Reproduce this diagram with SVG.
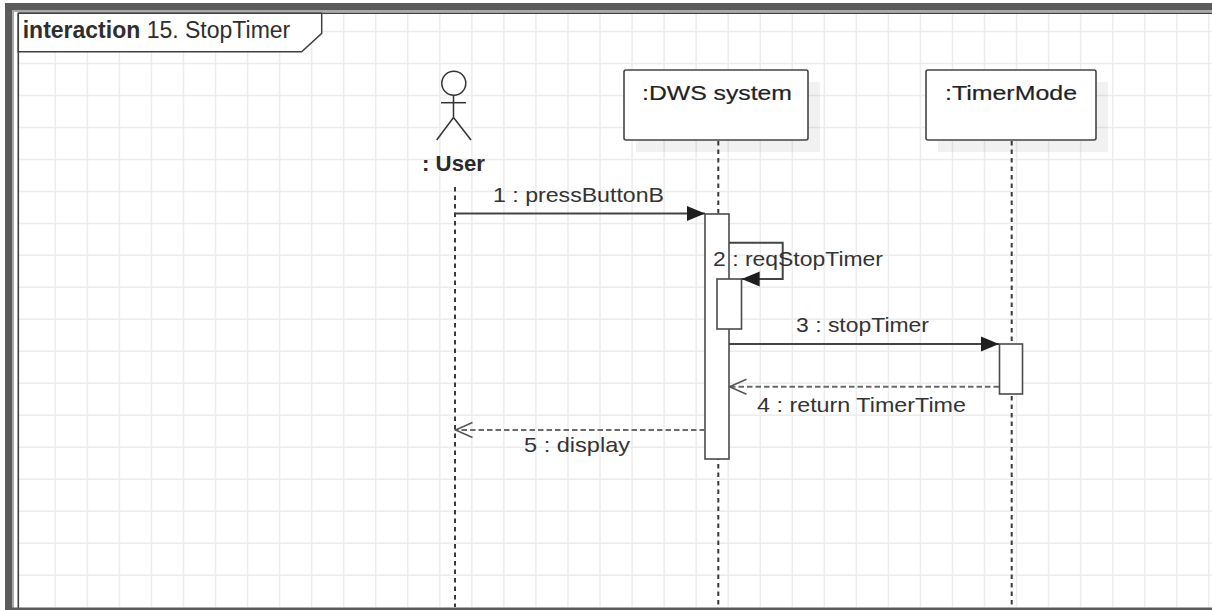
<svg xmlns="http://www.w3.org/2000/svg" width="1212" height="610" viewBox="0 0 1212 610">
<style>
.grid{stroke:#ececec;stroke-width:1.5;fill:none}
.band{fill:#5b5b5b}
.bandl{fill:#a9a9a9}
.frame{fill:#ffffff;stroke:#404040;stroke-width:1.5}
.box{fill:#ffffff;stroke:#444444;stroke-width:1.6}
.shadow{fill:#000000;fill-opacity:0.055}
.act{fill:#ffffff;stroke:#4a4a4a;stroke-width:1.6}
.life{stroke:#3a3a3a;stroke-width:2;stroke-dasharray:4.5 4;fill:none}
.msg{stroke:#444444;stroke-width:2;fill:none}
.ret{stroke:#6a6a6a;stroke-width:2;stroke-dasharray:5.5 3;fill:none}
.lbl{font-family:"Liberation Sans",Arial,sans-serif;font-size:21px;fill:#333333}
.node{font-family:"Liberation Sans",Arial,sans-serif;font-size:21px;fill:#222222;stroke:#222222;stroke-width:0.2}
.title{font-family:"Liberation Sans",Arial,sans-serif;font-size:23px;fill:#2e2e2e}
.actor{stroke:#333333;stroke-width:1.5;fill:none}
</style>
<defs>
<marker id="filled" markerUnits="userSpaceOnUse" markerWidth="20" markerHeight="16" refX="18" refY="7.5" orient="auto" overflow="visible">
<path d="M0,0 L18,7.5 L0,15 z" fill="#1f1f1f"/>
</marker>
<marker id="open" markerUnits="userSpaceOnUse" markerWidth="20" markerHeight="16" refX="17" refY="7.5" orient="auto" overflow="visible">
<path d="M0,0 L17,7.5 L0,15" fill="none" stroke="#555555" stroke-width="1.5"/>
</marker>
</defs>
<rect x="0" y="0" width="1212" height="610" fill="#ffffff"/>
<g id="grid">
<path class="grid" d="M55.34,13V607M87.38,13V607M119.42,13V607M151.46,13V607M183.5,13V607M215.54,13V607M247.58,13V607M279.62,13V607M311.66,13V607M343.7,13V607M375.74,13V607M407.78,13V607M439.82,13V607M471.86,13V607M503.9,13V607M535.94,13V607M567.98,13V607M600.02,13V607M632.06,13V607M664.1,13V607M696.14,13V607M728.18,13V607M760.22,13V607M792.26,13V607M824.3,13V607M856.34,13V607M888.38,13V607M920.42,13V607M952.46,13V607M984.5,13V607M1016.54,13V607M1048.58,13V607M1080.62,13V607M1112.66,13V607M1144.7,13V607M1176.74,13V607M1208.78,13V607"/>
<path class="grid" d="M18,31.5H1212M18,63.48H1212M18,95.46H1212M18,127.44H1212M18,159.42H1212M18,191.4H1212M18,223.38H1212M18,255.36H1212M18,287.34H1212M18,319.32H1212M18,351.3H1212M18,383.28H1212M18,415.26H1212M18,447.24H1212M18,479.22H1212M18,511.2H1212M18,543.18H1212M18,575.16H1212"/>
</g>
<g id="frame">
<rect class="band" x="5" y="3" width="1207" height="7"/>
<rect class="bandl" x="12" y="10" width="1200" height="2"/>
<rect class="band" x="5" y="3" width="7" height="607"/>
<rect class="bandl" x="12" y="10" width="2" height="598"/>
<line x1="18.3" y1="13.3" x2="18.3" y2="608" stroke="#404040" stroke-width="1.6"/>
<line x1="18.3" y1="13.3" x2="1212" y2="13.3" stroke="#404040" stroke-width="1.4"/>
<rect class="band" x="5" y="607.5" width="1207" height="2.5"/>
<path class="frame" d="M18.3,13.3 H321.7 V33.3 L301.7,51.7 H18.3 Z"/>
<text class="title" x="22.7" y="37.7"><tspan font-weight="bold">interaction</tspan> 15. StopTimer</text>
</g>
<g id="lifelines">
<line class="life" x1="455" y1="187" x2="455" y2="607"/>
<line class="life" x1="718.3" y1="141" x2="718.3" y2="607"/>
<line class="life" x1="1011.7" y1="141" x2="1011.7" y2="607"/>
</g>
<g id="user">
<circle class="actor" cx="453.8" cy="83.3" r="12"/>
<line class="actor" x1="453.5" y1="95.5" x2="453.5" y2="117.5"/>
<line class="actor" x1="441" y1="102.7" x2="466" y2="102.7"/>
<line class="actor" x1="453.5" y1="117.5" x2="436.7" y2="140"/>
<line class="actor" x1="453.5" y1="117.5" x2="471" y2="140"/>
<text x="422" y="170.7" font-family="'Liberation Sans',Arial,sans-serif" font-size="22" font-weight="bold" fill="#2a2a2a" textLength="63" lengthAdjust="spacingAndGlyphs">: User</text>
</g>
<g id="dws">
<rect class="shadow" x="636" y="82" width="184" height="70"/>
<rect class="box" x="624" y="70" width="184" height="70" rx="2"/>
<text class="node" x="642" y="100" textLength="150" lengthAdjust="spacingAndGlyphs">:DWS system</text>
</g>
<g id="timermode">
<rect class="shadow" x="938" y="82" width="170" height="70"/>
<rect class="box" x="926" y="70" width="170" height="70" rx="2"/>
<text class="node" x="945" y="100" textLength="132" lengthAdjust="spacingAndGlyphs">:TimerMode</text>
</g>
<g id="activations">
<rect class="act" x="705" y="214" width="24" height="245"/>
<rect class="act" x="717" y="279" width="24.5" height="50"/>
<rect class="act" x="999.5" y="344" width="23" height="50"/>
</g>
<g id="connectors">
<line class="msg" x1="455" y1="213.5" x2="705" y2="213.5" marker-end="url(#filled)"/>
<path class="msg" d="M729,242.7 H782.7 V279 H741.7" marker-end="url(#filled)"/>
<line class="msg" x1="729" y1="344" x2="999" y2="344" marker-end="url(#filled)"/>
<line class="ret" x1="999" y1="386.7" x2="729.5" y2="386.7" marker-end="url(#open)"/>
<line class="ret" x1="705" y1="430" x2="455.5" y2="430" marker-end="url(#open)"/>
</g>
<g id="labels">
<text class="lbl" x="493" y="201.5" textLength="171" lengthAdjust="spacingAndGlyphs">1 : pressButtonB</text>
<text class="lbl" x="713" y="265.5" textLength="170" lengthAdjust="spacingAndGlyphs">2 : reqStopTimer</text>
<text class="lbl" x="796" y="331.5" textLength="133" lengthAdjust="spacingAndGlyphs">3 : stopTimer</text>
<text class="lbl" x="757" y="411.5" textLength="209" lengthAdjust="spacingAndGlyphs">4 : return TimerTime</text>
<text class="lbl" x="524" y="452.3" textLength="106" lengthAdjust="spacingAndGlyphs">5 : display</text>
</g>
</svg>
